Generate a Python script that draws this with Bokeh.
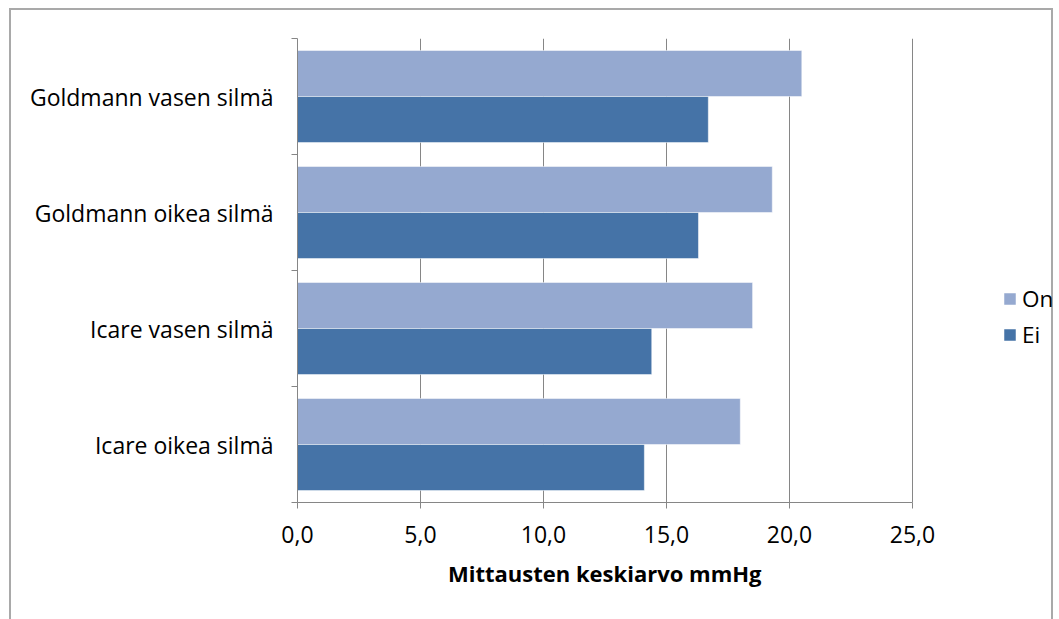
from bokeh.plotting import figure
from bokeh.models import (ColumnDataSource, FixedTicker, CustomJSTickFormatter,
                          Legend, LegendItem, Title)
from bokeh.embed import file_html
from bokeh.resources import INLINE

# ---- data ----
categories = ["Icare oikea silmä", "Icare vasen silmä",
              "Goldmann oikea silmä", "Goldmann vasen silmä"]
on_values = [18.0, 18.5, 19.3, 20.5]
ei_values = [14.1, 14.4, 16.3, 16.7]
series_names = ["On", "Ei"]
x_ticks = [0, 5, 10, 15, 20, 25]
x_title = "Mittausten keskiarvo mmHg"

FONT = "Open Sans"
FS = "23px"
GRAY = "#868686"
C_ON = "#95A9D0"
C_EI = "#4573A7"

pos = list(range(len(categories)))
bar_h = 0.397
src = ColumnDataSource(dict(
    cat=categories,
    y_on=[p + bar_h / 2 for p in pos],
    y_ei=[p - bar_h / 2 for p in pos],
    on=on_values, ei=ei_values,
))

W, H = 1044, 617
LEFT = 286
x_max = x_ticks[-1]
# frame extends to the right edge so the legend can sit inside it;
# axis / grid are bounded to 0..25
x_end = x_max * (W - LEFT) / 615.0
p = figure(width=W, height=H, output_backend="svg", toolbar_location=None,
           x_range=(0, x_end), y_range=(-0.5, len(categories) - 0.5),
           min_border_left=LEFT, min_border_right=0,
           min_border_top=28, min_border_bottom=125,
           margin=(8, 0, 0, 9),
           styles={"border": "2px solid #A9A9A9"})
p.outline_line_color = None
p.background_fill_color = "white"
p.border_fill_color = "white"

r_on = p.hbar(y="y_on", left=0, right="on", height=bar_h, source=src,
              fill_color=C_ON, line_color="white", line_width=0.5)
r_ei = p.hbar(y="y_ei", left=0, right="ei", height=bar_h, source=src,
              fill_color=C_EI, line_color="white", line_width=0.5)

# x axis
xa = p.xaxis[0]
xa.bounds = (0, x_max)
xa.ticker = FixedTicker(ticks=x_ticks)
xa.formatter = CustomJSTickFormatter(code="return tick.toFixed(1).replace('.', ',')")
xa.axis_line_color = GRAY
xa.major_tick_line_color = GRAY
xa.major_tick_in = 0
xa.major_tick_out = 6
xa.minor_tick_line_color = None
xa.major_label_text_font = FONT
xa.major_label_text_font_size = FS
xa.major_label_text_color = "black"
xa.major_label_standoff = 17

title = Title(text=x_title, align="left", offset=150.5, standoff=20,
              text_font=FONT, text_font_size="22px", text_font_style="bold",
              text_color="black")
p.add_layout(title, "below")

# y axis
ya = p.yaxis[0]
ya.ticker = FixedTicker(ticks=pos,
                        minor_ticks=[q - 0.5 for q in pos] + [pos[-1] + 0.5])
ya.major_label_overrides = {q: c for q, c in zip(pos, categories)}
ya.axis_line_color = GRAY
ya.major_tick_line_color = None
ya.major_tick_in = 0
ya.major_tick_out = 6
ya.minor_tick_line_color = GRAY
ya.minor_tick_in = 0
ya.minor_tick_out = 6
ya.major_label_text_font = FONT
ya.major_label_text_font_size = FS
ya.major_label_text_color = "black"
ya.major_label_standoff = 18

p.xgrid.ticker = FixedTicker(ticks=x_ticks)
p.xgrid.bounds = (0, x_max)
p.xgrid.grid_line_color = GRAY
p.xgrid.grid_line_width = 1
p.ygrid.grid_line_color = None

legend = Legend(items=[LegendItem(label=series_names[0], renderers=[r_on]),
                       LegendItem(label=series_names[1], renderers=[r_ei])],
                location=(705, 152), orientation="vertical",
                glyph_width=15, glyph_height=15, label_standoff=5,
                spacing=5, padding=0, margin=0,
                label_text_font=FONT, label_text_font_size="22.5px",
                label_text_color="black",
                border_line_color=None, background_fill_alpha=0)
p.add_layout(legend, "center")

open("out.html", "w").write(file_html(p, INLINE))
